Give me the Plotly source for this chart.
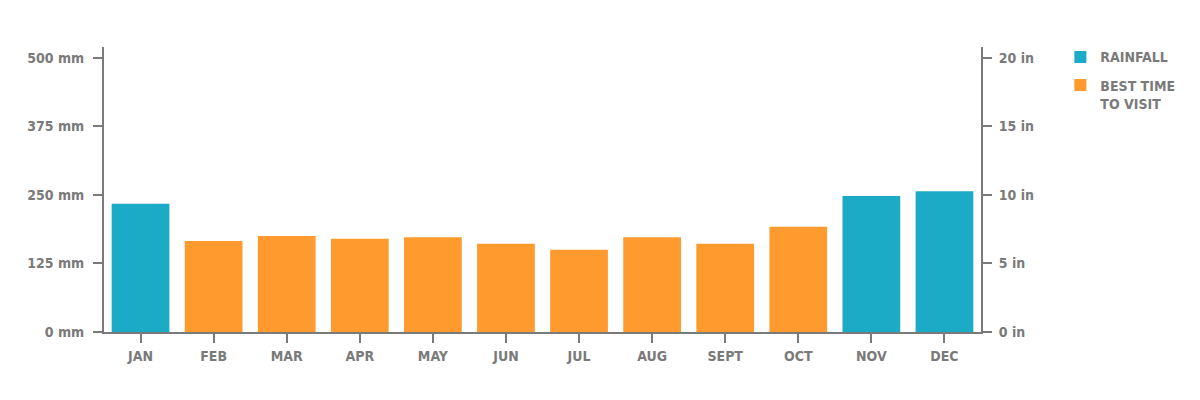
import plotly.graph_objects as go

months = ["JAN", "FEB", "MAR", "APR", "MAY", "JUN", "JUL", "AUG", "SEPT", "OCT", "NOV", "DEC"]
rainfall_mm = [234, 166, 175, 170, 173, 161, 150, 173, 161, 192, 248, 257]
best_time = [False, True, True, True, True, True, True, True, True, True, False, False]
mm_ticks = [0, 125, 250, 375, 500]
mm_labels = ["0 mm", "125 mm", "250 mm", "375 mm", "500 mm"]
in_ticks = [0, 5, 10, 15, 20]
in_labels = ["0 in", "5 in", "10 in", "15 in", "20 in"]

TEAL = "#1CABC6"
ORANGE = "#FF9A2F"
GREY = "#7a7a7a"
FONT = "DejaVu Sans Condensed, Roboto, sans-serif"

rain_y = [v if not b else None for v, b in zip(rainfall_mm, best_time)]
best_y = [v if b else None for v, b in zip(rainfall_mm, best_time)]

fig = go.Figure()
fig.add_trace(go.Bar(x=months, y=rain_y, name="RAINFALL", legendgroup="rain",
                     marker=dict(color=TEAL, line=dict(width=0))))
fig.add_trace(go.Bar(x=months, y=best_y, name="BEST TIME<br>TO VISIT", legendgroup="best",
                     marker=dict(color=ORANGE, line=dict(width=0))))
fig.add_trace(go.Scatter(x=months, y=[v / 25 for v in rainfall_mm], yaxis="y2", mode="lines",
                         line=dict(width=0), opacity=0, showlegend=False, hoverinfo="skip"))

axis_font = dict(family=FONT, size=14, color=GREY, weight="bold")
xfont = dict(family=FONT, size=14, color=GREY, weight="bold")
fig.update_layout(
    width=1184, height=384,
    margin=dict(l=96, r=209, t=39, b=60),
    paper_bgcolor="white", plot_bgcolor="white",
    barmode="overlay", bargap=0.21,
    font=dict(family=FONT, color=GREY),
    xaxis=dict(categoryorder="array", categoryarray=months, range=[-0.5, len(months) - 0.5],
               showline=True, linecolor=GREY, linewidth=2,
               ticks="outside", ticklen=9, tickwidth=2, tickcolor=GREY, tickfont=xfont,
               showgrid=False, zeroline=False, ticklabelstandoff=1),
    yaxis=dict(range=[0, 520], tickvals=mm_ticks, ticktext=mm_labels, showline=True, linecolor=GREY,
               linewidth=2, ticks="outside", ticklen=9, tickwidth=2, tickcolor=GREY, tickfont=axis_font,
               showgrid=False, zeroline=False, ticklabelstandoff=6, fixedrange=True),
    yaxis2=dict(range=[0, 520 / 25], tickvals=in_ticks, ticktext=in_labels, overlaying="y", side="right",
                showline=True, linecolor=GREY, linewidth=2, ticks="outside", ticklen=9, tickwidth=2,
                tickcolor=GREY, tickfont=axis_font, showgrid=False, zeroline=False, ticklabelstandoff=4),
    legend=dict(x=1.0905, xanchor="left", y=1.02, yanchor="top", valign="top",
                font=dict(family=FONT, size=14, color=GREY, weight="bold"), itemwidth=30, tracegroupgap=7),
    showlegend=True,
)

fig.write_html("out.html")
